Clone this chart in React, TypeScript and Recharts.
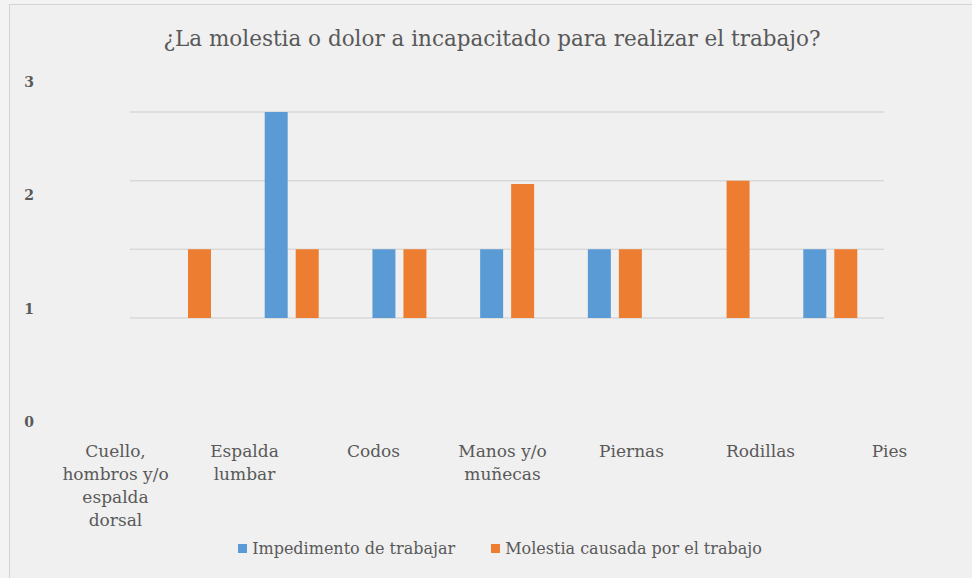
import { Bar, BarChart, CartesianGrid, Legend, XAxis, YAxis } from "recharts";

const categories = [
  "Cuello,\nhombros y/o\nespalda\ndorsal",
  "Espalda\nlumbar",
  "Codos",
  "Manos y/o\nmuñecas",
  "Piernas",
  "Rodillas",
  "Pies",
];
const impedimento = [0, 3, 1, 1, 1, 0, 1];
const molestia = [1, 1, 1, 1.95, 1, 2, 1];
const yTicks = [0, 1, 2, 3];

const data = categories.map((name, i) => ({ name, impedimento: impedimento[i], molestia: molestia[i] }));

const FONT = '"DejaVu Serif", serif';
const TEXT = "#595959";
const BLUE = "#5b9bd5";
const ORANGE = "#ed7d31";

function CategoryTick({ x, y, payload }: any) {
  const lines = String(payload.value).split("\n");
  return (
    <text x={x} y={y} textAnchor="middle" fill={TEXT} fontSize={17} fontFamily={FONT}>
      {lines.map((l, i) => (
        <tspan key={i} x={x} dy={i === 0 ? "0.8em" : 23}>
          {l}
        </tspan>
      ))}
    </text>
  );
}

function LegendBox() {
  const items = [
    { label: "Impedimento de trabajar", color: BLUE },
    { label: "Molestia causada por el trabajo", color: ORANGE },
  ];
  return (
    <div style={{ display: "flex", justifyContent: "center", gap: 36, height: 20, alignItems: "center", paddingLeft: 28 }}>
      {items.map((it) => (
        <span key={it.label} style={{ display: "flex", alignItems: "center", fontFamily: FONT, fontSize: 16, color: TEXT }}>
          <span style={{ width: 9, height: 9, background: it.color, marginRight: 5, display: "inline-block" }} />
          {it.label}
        </span>
      ))}
    </div>
  );
}

export default function App() {
  return (
    <div style={{ position: "absolute", left: 0, top: 0, width: 972, height: 578, background: "#f3f3f3" }}>
      <div
        style={{
          position: "absolute",
          left: 9,
          top: 4,
          width: 963,
          height: 574,
          background: "#f0f0f0",
          borderLeft: "1px solid #d4d4d4",
          borderTop: "1px solid #d4d4d4",
        }}
      />
      <div
        style={{
          position: "absolute",
          top: 26,
          left: 6,
          width: 972,
          textAlign: "center",
          fontFamily: FONT,
          fontSize: 21.5,
          color: TEXT,
        }}
      >
        ¿La molestia o dolor a incapacitado para realizar el trabajo?
      </div>
      <div style={{ position: "absolute", left: 0, top: 0 }}>
        <BarChart
          width={972}
          height={578}
          data={data}
          barSize={23}
          barGap={8}
          margin={{ top: 112, right: 88, left: 10, bottom: 210 }}
        >
          <CartesianGrid vertical={false} stroke="#d9d9d9" strokeWidth={1.5} xAxisId="data" yAxisId="data" />
          <XAxis xAxisId="data" dataKey="name" hide />
          <XAxis
            xAxisId="labels"
            dataKey="name"
            axisLine={false}
            tickLine={false}
            tickSize={0}
            tickMargin={95}
            height={30}
            padding={{ left: -79, right: -70 }}
            interval={0}
            tick={<CategoryTick />}
          />
          <YAxis yAxisId="data" domain={[0, 3]} ticks={yTicks} width={0} hide />
          <YAxis
            yAxisId="labels"
            type="number"
            domain={[0, 3]}
            allowDataOverflow
            ticks={yTicks}
            interval={0}
            width={120}
            axisLine={false}
            tickLine={false}
            tickSize={0}
            tickMargin={96}
            padding={{ top: -30, bottom: -104 }}
            tick={{ fill: TEXT, fontSize: 14, fontFamily: FONT, fontWeight: "bold" }}
          />
          <Legend verticalAlign="bottom" content={<LegendBox />} wrapperStyle={{ top: 538, left: 0, width: 972 }} />
          <Bar xAxisId="data" yAxisId="data" dataKey="impedimento" name="Impedimento de trabajar" fill={BLUE} isAnimationActive={false} />
          <Bar xAxisId="data" yAxisId="data" dataKey="molestia" name="Molestia causada por el trabajo" fill={ORANGE} isAnimationActive={false} />
        </BarChart>
      </div>
    </div>
  );
}
